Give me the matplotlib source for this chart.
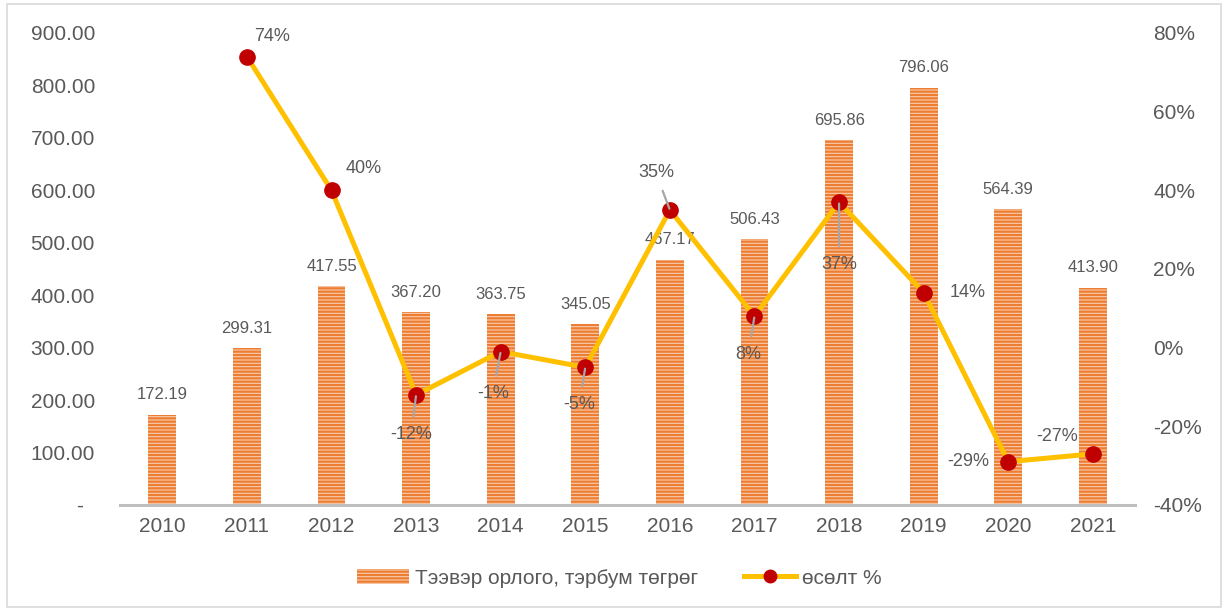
import matplotlib.pyplot as plt
from matplotlib.patches import Patch, Rectangle
from matplotlib.lines import Line2D

plt.rcParams['font.family'] = ['Liberation Sans', 'DejaVu Sans']
plt.rcParams['hatch.linewidth'] = 1.6

# Transport revenue (bn MNT) and year-on-year growth (%)
years = ['2010', '2011', '2012', '2013', '2014', '2015', '2016', '2017', '2018', '2019', '2020', '2021']
revenue = [172.19, 299.31, 417.55, 367.20, 363.75, 345.05, 467.17, 506.43, 695.86, 796.06, 564.39, 413.90]
growth = [None, 74, 40, -12, -1, -5, 35, 8, 37, 14, -29, -27]

# label offsets (pixels) for the growth labels, and whether a leader line is drawn
growth_offsets = [None, (25, 20), (32, 22), (-5, -40), (-8, -42), (-6, -37), (-14, 37), (-6, -38), (0, -62), (44, 0), (-40, 0), (-36, 17)]
growth_leader = [False, False, False, True, True, True, True, True, True, False, False, False]

text_color = '#595959'
bar_color = '#ED7D31'
line_color = '#FFC000'
marker_color = '#C00000'

fig = plt.figure(figsize=(12.26, 6.11), dpi=100)
fig.patches.append(Rectangle((0.006, 0.006), 0.99, 0.988, transform=fig.transFigure,
                             fill=False, edgecolor='#D9D9D9', linewidth=1.2))
ax = fig.add_axes([0.0979, 0.1735, 0.828, 0.7725])
x = list(range(len(years)))

ax.bar(x, revenue, width=0.33, facecolor='#F8CBAD', edgecolor=bar_color,
       hatch='-----', linewidth=0, zorder=2)
for xi, v in zip(x, revenue):
    ax.annotate(f'{v:.2f}', (xi, v), xytext=(0, 20), textcoords='offset pixels',
                ha='center', va='center', fontsize=12, color=text_color)

ax.set_xlim(-0.5, 11.5)
ax.set_ylim(0, 900)
ax.set_yticks(range(0, 901, 100))
ax.set_yticklabels(['-  '] + [f'{v:.2f}' for v in range(100, 901, 100)])
ax.set_xticks(x)
ax.set_xticklabels(years)
ax.tick_params(axis='both', length=0, labelsize=15, colors=text_color)
ax.tick_params(axis='y', pad=18)
ax.tick_params(axis='x', pad=9)
for s in ['top', 'left', 'right']:
    ax.spines[s].set_visible(False)
ax.spines['bottom'].set_color('#BFBFBF')
ax.spines['bottom'].set_linewidth(2.2)
ax.spines['bottom'].set_zorder(3)

ax2 = ax.twinx()
gx = [xi for xi, g in zip(x, growth) if g is not None]
gy = [g for g in growth if g is not None]
ax2.plot(gx, gy, color=line_color, linewidth=3.6, marker='o', markersize=11,
         markerfacecolor=marker_color, markeredgecolor=marker_color, zorder=4)
ax2.set_ylim(-40, 80)
ax2.set_yticks(range(-40, 81, 20))
ax2.set_yticklabels([f'{v}%' for v in range(-40, 81, 20)])
ax2.tick_params(axis='y', length=0, labelsize=15, colors=text_color, pad=13)
for s in ['top', 'left', 'right', 'bottom']:
    ax2.spines[s].set_visible(False)

for xi, g, off, lead in zip(x, growth, growth_offsets, growth_leader):
    if g is None:
        continue
    props = None
    if lead:
        props = dict(arrowstyle='-', color='#A6A6A6', linewidth=1.6, shrinkA=5, shrinkB=1)
    ax2.annotate(f'{g}%', (xi, g), xytext=off, textcoords='offset pixels',
                 ha='center', va='center', fontsize=13, color=text_color,
                 arrowprops=props, zorder=5)

handles = [
    Patch(facecolor='#F8CBAD', edgecolor=bar_color, hatch='-----', linewidth=0),
    Line2D([], [], color=line_color, linewidth=3.6, marker='o', markersize=9,
           markerfacecolor=marker_color, markeredgecolor=marker_color),
]
fig.legend(handles, ['Тээвэр орлого, тэрбум төгрөг', 'өсөлт %'], loc='center',
           bbox_to_anchor=(0.505, 0.054), ncol=2, frameon=False, fontsize=15,
           labelcolor=text_color, handlelength=2.5, handleheight=0.7,
           columnspacing=2.2, handletextpad=0.3)

fig.savefig('out.png', dpi=100)
